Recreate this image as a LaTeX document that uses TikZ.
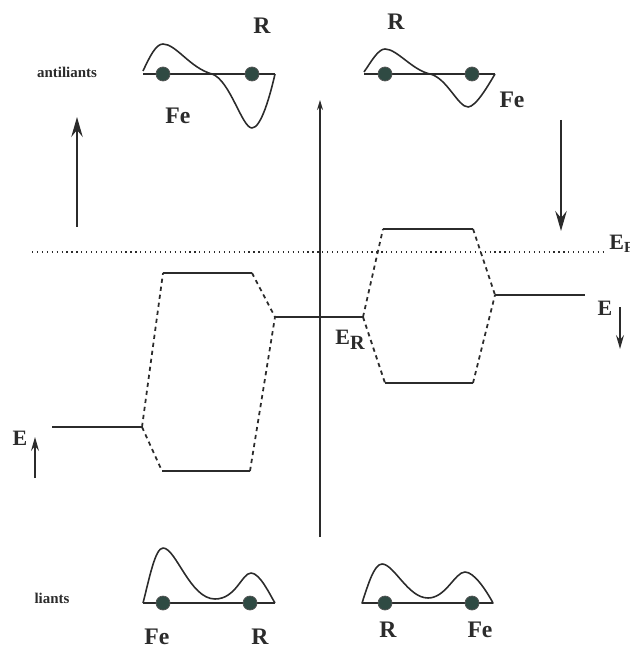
\documentclass[tikz,border=0pt]{standalone}
\usepackage{fontspec}
\setmainfont{Liberation Serif}
\usetikzlibrary{positioning,arrows.meta}
\definecolor{ink}{HTML}{2B2B2B}
\definecolor{atomgreen}{HTML}{2F4A43}
\tikzset{
  lvl/.style={draw=ink, line width=0.9pt},
  corr/.style={draw=ink, line width=1pt, dash pattern=on 2.4pt off 2.2pt},
  fermi/.style={draw=ink, line width=0.9pt, dash pattern=on 0.7pt off 2.1pt},
  orb/.style={draw=ink, line width=0.9pt, line join=round},
  atom/.style={circle, fill=atomgreen, draw=ink!80, line width=0.4pt,
               minimum size=2.8mm, inner sep=0pt},
  lab/.style={font=\fontsize{13.5}{15}\selectfont\bfseries, text=ink, inner sep=0pt},
  elab/.style={font=\fontsize{12.5}{14}\selectfont\bfseries, text=ink, inner sep=0pt},
  side/.style={font=\fontsize{8.5}{10}\selectfont\bfseries, text=ink, inner sep=0pt},
  bigar/.style={-{Stealth[length=4mm,width=2.3mm,inset=1.4mm]}, line width=1pt, draw=ink},
  smallar/.style={-{Stealth[length=2.8mm,width=1.6mm,inset=1mm]}, line width=0.9pt, draw=ink},
  axar/.style={-{Stealth[length=2mm,width=1.2mm]}, line width=0.7pt, draw=ink},
}

\begin{document}
\begin{tikzpicture}[x=0.02cm, y=-0.02cm]
  \useasboundingbox (0,0) rectangle (629,648);

  % side labels
  \node[side] (anti) at (67,72) {antiliants};
  \node[side] (lia) at (52,598) {liants};

  % antibonding orbitals, top
  \draw[orb] (143,74) -- (275,74);
  \draw[orb] (143,71) .. controls (150,56) and (156,44) .. (163,44)
    .. controls (176,44) and (190,68) .. (212,74)
    .. controls (230,80) and (242,128) .. (252,128)
    .. controls (261,128) and (270,96) .. (275,74);
  \node[atom] (aTL1) at (163,74) {};
  \node[atom] (aTL2) at (252,74) {};
  \node[lab] (rTL) at (262,26) {R};
  \node[lab] (feTL) at (178,116) {Fe};

  \draw[orb] (364,74) -- (495,74);
  \draw[orb] (364,72) .. controls (371,62) and (378,49) .. (385,49)
    .. controls (397,49) and (412,70) .. (430,74)
    .. controls (447,78) and (458,107) .. (468,107)
    .. controls (476,107) and (489,84) .. (495,74);
  \node[atom] (aTR1) at (385,74) {};
  \node[atom] (aTR2) at (472,74) {};
  \node[lab] (rTR) at (396,22) {R};
  \node[lab] (feTR) at (512,100) {Fe};

  % bonding orbitals, bottom
  \draw[orb] (143,603) -- (275,603);
  \draw[orb] (143,603) .. controls (149,580) and (155,548) .. (163,548)
    .. controls (176,548) and (190,599) .. (215,599)
    .. controls (236,599) and (242,573) .. (251,573)
    .. controls (260,573) and (270,595) .. (275,603);
  \node[atom] (aBL1) at (163,603) {};
  \node[atom] (aBL2) at (250,603) {};
  \node[lab] (feBL) at (157,637) {Fe};
  \node[lab] (rBL) at (260,637) {R};

  \draw[orb] (362,603) .. controls (368,585) and (374,564) .. (382,564)
    .. controls (394,564) and (408,598) .. (428,598)
    .. controls (446,598) and (455,572) .. (465,572)
    .. controls (474,572) and (486,590) .. (493,603) -- cycle;
  \node[atom] (aBR1) at (385,603) {};
  \node[atom] (aBR2) at (472,603) {};
  \node[lab] (rBR) at (388,630) {R};
  \node[lab] (feBR) at (480,630) {Fe};

  % energy axis and Fermi level
  \coordinate (axB) at (320,537);
  \coordinate (axT) at (320,100);
  \draw[axar] (axB) -- (axT);
  \coordinate (fA) at (32,252);
  \coordinate (fB) at (603,252);
  \draw[fermi] (fA) -- (fB);
  \node[elab, anchor=west] (eF) at (609,244) {E\textsubscript{F}};

  % big shift arrows
  \coordinate (upB) at (77,227);
  \coordinate (upT) at (77,117);
  \draw[bigar] (upB) -- (upT);
  \coordinate (dnT) at (561,120);
  \coordinate (dnB) at (561,231);
  \draw[bigar] (dnT) -- (dnB);

  % left levels
  \coordinate (feL1) at (52,427);
  \coordinate (feL2) at (142,427);
  \draw[lvl] (feL1) -- (feL2);
  \node[elab] (eL) at (20,438) {E};
  \coordinate (eLa) at (35,478);
  \coordinate (eLb) at (35,437);
  \draw[smallar] (eLa) -- (eLb);
  \coordinate (bT1) at (163,273);
  \coordinate (bT2) at (252,273);
  \coordinate (bB1) at (162,471);
  \coordinate (bB2) at (250,471);
  \draw[lvl] (bT1) -- (bT2);
  \draw[lvl] (bB1) -- (bB2);

  % E_R level
  \coordinate (er1) at (275,317);
  \coordinate (er2) at (363,317);
  \draw[lvl] (er1) -- (er2);
  \node[elab] (eR) at (350,340) {E\raisebox{-0.45ex}{\fontsize{11.5}{11}\selectfont R}};

  % right levels
  \coordinate (cT1) at (383,229);
  \coordinate (cT2) at (473,229);
  \coordinate (cB1) at (385,383);
  \coordinate (cB2) at (473,383);
  \draw[lvl] (cT1) -- (cT2);
  \draw[lvl] (cB1) -- (cB2);
  \coordinate (feR1) at (495,295);
  \coordinate (feR2) at (585,295);
  \draw[lvl] (feR1) -- (feR2);
  \node[elab] (eRt) at (605,308) {E};
  \coordinate (eRa) at (620,307);
  \coordinate (eRb) at (620,349);
  \draw[smallar] (eRa) -- (eRb);

  % correlation lines
  \draw[corr] (feL2) -- (bT1);
  \draw[corr] (feL2) -- (bB1);
  \draw[corr] (bT2) -- (er1);
  \draw[corr] (bB2) -- (er1);
  \draw[corr] (er2) -- (cT1);
  \draw[corr] (er2) -- (cB1);
  \draw[corr] (cT2) -- (feR1);
  \draw[corr] (cB2) -- (feR1);
\end{tikzpicture}
\end{document}
